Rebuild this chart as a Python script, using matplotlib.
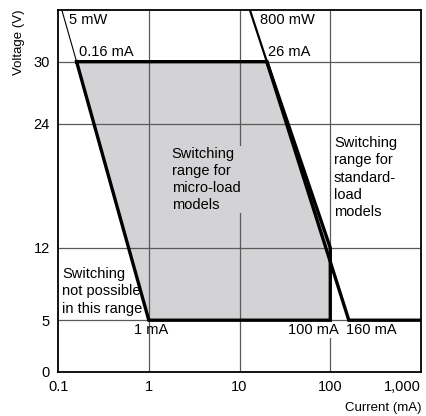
import matplotlib
matplotlib.use("Agg")
import matplotlib.pyplot as plt

plt.rcParams['font.family'] = ['Liberation Sans', 'DejaVu Sans']

# axis ticks
v_ticks = [0, 5, 12, 24, 30]
i_ticks = [0.1, 1, 10, 100, 1000]
i_tick_labels = ["0.1", "1", "10", "100", "1,000"]

# micro-load switching range (shaded)
micro_i = [0.16, 20, 100, 100, 1]
micro_v = [30, 30, 12, 5, 5]

# 5 mW power line (thin part above 30 V)
low_thin_i = [0.11, 0.16]
low_thin_v = [35, 30]

# 800 mW power line (thin part above 30 V) and standard-load boundary
high_thin_i = [13, 20]
high_thin_v = [35, 30]
std_i = [20, 160, 1000]
std_v = [30, 5, 5]

fill_col = "#d3d3d5"
grid_col = "#5a5a5a"

fig = plt.figure(figsize=(4.27, 4.16), dpi=100)
ax = fig.add_axes([0.136, 0.106, 0.850, 0.870])
ax.set_xscale("log")
ax.set_xlim(0.1, 1000)
ax.set_ylim(0, 35)

# grid
for x in i_ticks[1:-1]:
    ax.axvline(x, color=grid_col, lw=0.9, zorder=2)
for y in v_ticks[1:]:
    ax.axhline(y, color=grid_col, lw=0.9, zorder=2)

ax.fill(micro_i, micro_v, color=fill_col, lw=0, zorder=1)

# thick boundary of micro-load range
ax.plot(micro_i + micro_i[:1], micro_v + micro_v[:1], color="black", lw=2.4,
        solid_joinstyle="miter", zorder=4)
ax.plot(std_i, std_v, color="black", lw=2.4, solid_joinstyle="miter", zorder=4)
ax.plot(low_thin_i, low_thin_v, color="black", lw=0.8, zorder=4)
ax.plot(high_thin_i, high_thin_v, color="black", lw=1.6, zorder=4)

fs = 10.5
ax.text(0.132, 34.0, "5 mW", fontsize=fs, va="center", ha="left", zorder=5)
ax.text(0.17, 30.9, "0.16 mA", fontsize=fs, va="center", ha="left", zorder=5)
ax.text(17.0, 34.0, "800 mW", fontsize=fs, va="center", ha="left", zorder=5)
ax.text(20.8, 30.9, "26 mA", fontsize=fs, va="center", ha="left", zorder=5)
ax.text(1.05, 4.06, "1 mA", fontsize=fs, va="center", ha="center", zorder=5)
ax.text(34.5, 4.06, "100 mA", fontsize=fs, va="center", ha="left", zorder=5,
        bbox=dict(facecolor="white", edgecolor="none", pad=0.5))
ax.text(150, 4.06, "160 mA", fontsize=fs, va="center", ha="left", zorder=5)

ax.text(1.79, 18.6, "Switching\nrange for\nmicro-load\nmodels", fontsize=fs,
        va="center", ha="left", linespacing=1.25, zorder=5,
        bbox=dict(facecolor=fill_col, edgecolor="none", pad=1))
ax.text(110, 18.8, "Switching\nrange for\nstandard-\nload\nmodels", fontsize=fs,
        va="center", ha="left", linespacing=1.3, zorder=5)
ax.text(0.111, 7.8, "Switching\nnot possible\nin this range", fontsize=fs,
        va="center", ha="left", linespacing=1.3, zorder=5)

ax.set_xticks(i_ticks)
ax.set_xticklabels(i_tick_labels)
ax.minorticks_off()
ax.set_yticks(v_ticks)
ax.tick_params(length=0, labelsize=10.5, pad=6)
ax.get_xticklabels()[-1].set_horizontalalignment("right")

for s in ax.spines.values():
    s.set_linewidth(1.3)
    s.set_zorder(6)

ax.set_ylabel("Voltage (V)", fontsize=9.5)
ax.yaxis.set_label_coords(-0.091, 0.912)
ax.set_xlabel("Current (mA)", fontsize=9.5, ha="right")
ax.xaxis.set_label_coords(1.0, -0.084)

fig.savefig("out.png", dpi=100)
